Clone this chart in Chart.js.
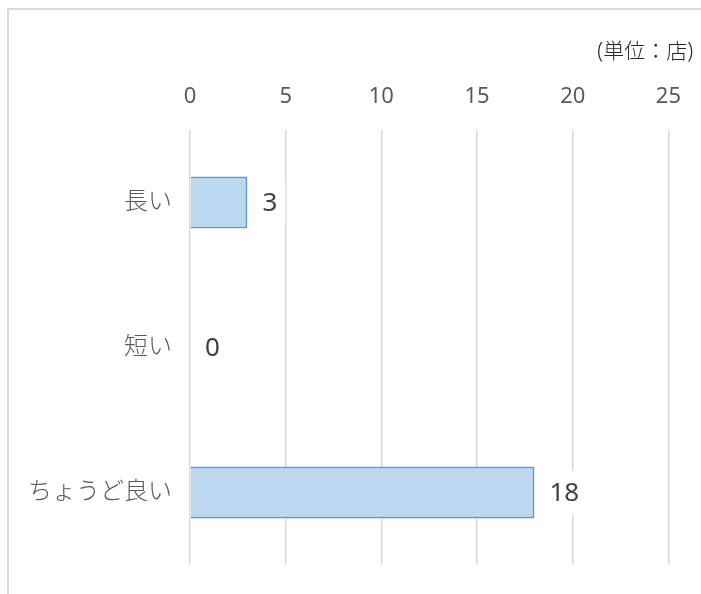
<!DOCTYPE html>
<html lang="ja">
<head>
    <meta charset="UTF-8">
    <title>営業時間</title>
    <script src="https://cdn.jsdelivr.net/npm/chart.js"></script>
    <style>
        body {
            margin: 0;
            background: #fff;
            font-family: 'Noto Sans', 'Noto Sans CJK JP', sans-serif;
        }
        #frame {
            position: absolute;
            left: 7px;
            top: 8px;
            width: 720px;
            height: 620px;
            border: 2px solid #d9d9d9;
        }
        #wrap {
            position: absolute;
            left: 0;
            top: 0;
            width: 701px;
            height: 594px;
        }
    </style>
</head>
<body>
    <div id="frame"></div>
    <div id="wrap">
        <canvas id="chart" width="701" height="594"></canvas>
    </div>

    <script>
        // データ
        const categories = ['長い', '短い', 'ちょうど良い'];
        const counts = [3, 0, 18];
        const xTicks = [0, 5, 10, 15, 20, 25];
        const unitLabel = '(単位：店)';

        const FONT = "'Noto Sans', 'Noto Sans CJK JP', sans-serif";

        // 単位ラベル（右上）
        const unitPlugin = {
            id: 'unitLabel',
            afterDraw(chart) {
                const ctx = chart.ctx;
                ctx.save();
                ctx.font = '300 21px ' + FONT;
                ctx.fillStyle = '#262626';
                ctx.textAlign = 'right';
                ctx.textBaseline = 'middle';
                ctx.fillText(unitLabel, chart.width - 8, 52);
                ctx.restore();
            }
        };

        // 値ラベル（白背景つき）
        const valuePlugin = {
            id: 'valueLabels',
            afterDatasetsDraw(chart) {
                const ctx = chart.ctx;
                const meta = chart.getDatasetMeta(0);
                ctx.save();
                ctx.font = '26px ' + FONT;
                ctx.textBaseline = 'middle';
                ctx.textAlign = 'left';
                meta.data.forEach((bar, i) => {
                    const text = String(counts[i]);
                    const w = ctx.measureText(text).width;
                    const x = bar.x + 15;
                    ctx.fillStyle = '#fff';
                    ctx.fillRect(x - 8, bar.y - 22, w + 16, 44);
                    ctx.fillStyle = '#404040';
                    ctx.fillText(text, x, bar.y + 1);
                });
                ctx.restore();
            }
        };

        new Chart(document.getElementById('chart'), {
            type: 'bar',
            data: {
                labels: categories,
                datasets: [{
                    data: counts,
                    backgroundColor: '#bdd7ee',
                    borderColor: '#5b9bd5',
                    borderWidth: 2,
                    categoryPercentage: 1,
                    barPercentage: 0.36
                }]
            },
            options: {
                indexAxis: 'y',
                responsive: false,
                animation: false,
                devicePixelRatio: 1,
                layout: {
                    padding: { top: 0, right: 32, bottom: 29, left: 0 }
                },
                plugins: {
                    legend: { display: false },
                    tooltip: { enabled: false }
                },
                scales: {
                    x: {
                        position: 'top',
                        min: xTicks[0],
                        max: xTicks[xTicks.length - 1],
                        afterFit: s => { s.height = 130; },
                        afterBuildTicks: s => { s.ticks = xTicks.map(v => ({ value: v })); },
                        ticks: {
                            color: '#595959',
                            font: { size: 22, family: FONT },
                            padding: 20
                        },
                        grid: {
                            color: '#d9d9d9',
                            lineWidth: 1.5,
                            drawTicks: false
                        },
                        border: { display: false }
                    },
                    y: {
                        afterFit: s => { s.width = 190; },
                        ticks: {
                            color: '#595959',
                            font: { size: 24, weight: 300, family: FONT },
                            padding: 10
                        },
                        grid: { display: false },
                        border: { display: false }
                    }
                }
            },
            plugins: [unitPlugin, valuePlugin]
        });
    </script>
</body>
</html>
